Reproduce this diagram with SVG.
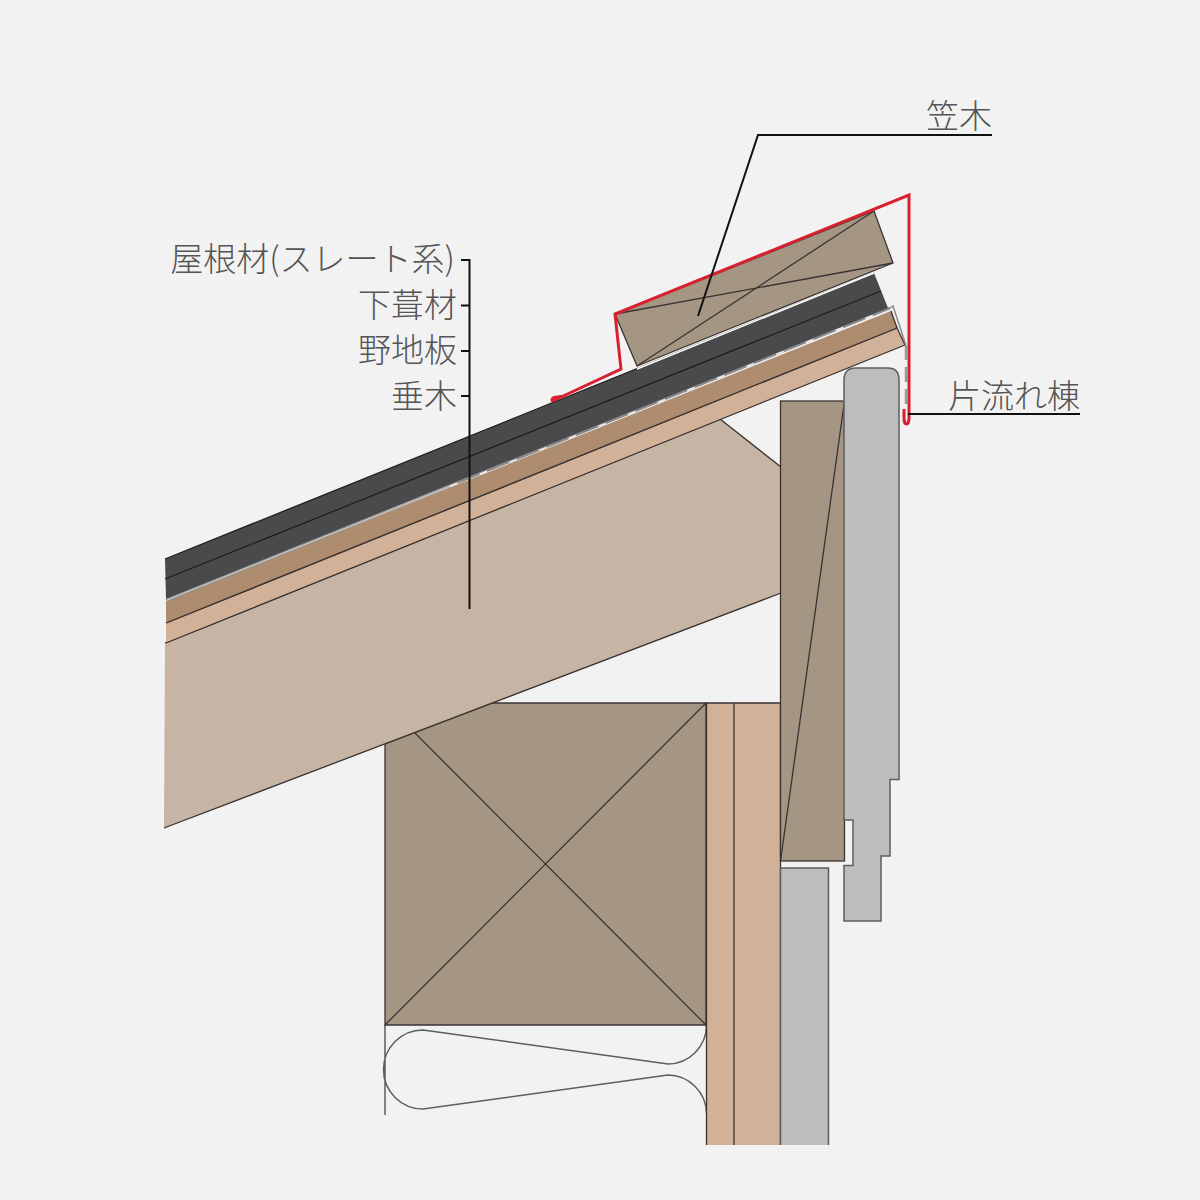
<svg xmlns="http://www.w3.org/2000/svg" width="1200" height="1200" viewBox="0 0 1200 1200">
<style>
.o{stroke:#3a3330;stroke-width:1.3;stroke-linejoin:miter}
.n{stroke:none}
.wood{fill:#a59684}
.peach{fill:#d2b199}
.gray{fill:#bdbdbd;stroke:#5e5e5e;stroke-width:1.5}
.g2{fill:#bdbdbd}
.thin{fill:none;stroke:#3a3330;stroke-width:1.3}
.ln{fill:none;stroke:#5e5e5e;stroke-width:1.500}
.lead{fill:none;stroke:#111;stroke-width:2}
.red{fill:none;stroke:#d8202f;stroke-width:3;stroke-linejoin:miter}
text{font-family:"Noto Sans CJK JP","Noto Sans",sans-serif;font-size:33px;font-weight:300;fill:#555;text-anchor:end}
</style>
<rect width="1200" height="1200" fill="#f2f2f2"/>
<g id="insulation">
<path class="ln" d="M385 1025V1115M706.500 1025A39 39 0 0 1 668 1064L423 1030A39.500 39.500 0 0 0 423 1109L668 1075A39 39 0 0 1 706.500 1113"/>
</g>
<g id="beam">
<path class="wood o" d="M385 744L492 703H706V1025H385Z"/>
<path class="thin" d="M385 1025L706 703M706 1025L415 733"/>
</g>
<g id="wall-studs">
<rect class="peach n" x="706.500" y="703" width="74" height="442"/>
<path class="thin" d="M706.500 1145V703H780.500V1145M734 703V1145"/>
</g>
<g id="rafter">
<path class="n" fill="#c6b4a5" d="M165 643L720 419L781 467V593L164 828Z"/>
<path class="thin" d="M165 643L720 419L781 467M781 593L164 828"/>
</g>
<g id="fascia">
<rect class="wood o" x="780.500" y="401" width="64" height="460"/>
<path class="thin" d="M844.500 401L780.500 861"/>
</g>
<g id="siding-lower">
<rect class="g2" x="780.500" y="868" width="48" height="277"/>
<path class="ln" d="M780.500 1145V868H828.500V1145"/>
</g>
<g id="siding-upper">
<path class="gray" d="M844 380Q844 368 856 368H888Q899 368 899 380V779.500H890V856H881V921H844V865.500H853V820H844Z"/>
</g>
<g id="sheathing">
<path class="peach n" d="M166 623L897 328L905 345L166 643Z"/>
<path class="thin" d="M166 623L897 328L905 345L166 643"/>
</g>
<g id="nojiita">
<path class="n" fill="#ae8c6f" d="M166 601L891 311L897 328L166 623Z"/>
<path class="thin" d="M891 311L897 328L166 623"/>
</g>
<g id="underlay">
<path fill="none" stroke="#8a8a8a" stroke-width="2.500" d="M166 600.500L890 308"/>
<path fill="none" stroke="#f4f4f4" stroke-width="1.500" stroke-dasharray="8 24" d="M450 422.800L890 245" transform="translate(0 63.500)"/>
<path fill="none" stroke="#e8e8e8" stroke-width="0.800" d="M166 600.500L450 486"/>
<path fill="none" stroke="#8a8a8a" stroke-width="1.500" d="M890 308L893 306L905.500 344"/>
<path fill="none" stroke="#999" stroke-width="2.500" stroke-dasharray="15 7" d="M906 345V408"/>
</g>
<g id="roofing">
<path class="n" fill="#4a4a4c" d="M165 559L874 273L888 308L166 599Z"/>
<path class="thin" stroke-width="1.500" style="stroke:#1e1e1e" d="M165 579L881 291M165 559L874 273"/>
</g>
<g id="kasagi">
<path class="wood o" d="M615 314L874 211L893 263L637 366Z"/>
<path class="thin" d="M615 314L893 263M637 366L874 211"/>
<path fill="none" stroke="#fff" stroke-width="1.500" d="M637 369L874 273"/>
</g>
<g id="flashing">
<path class="red" d="M565 396L554 397.500Q551 399 552.500 401L621 369L615 314L909 195V418C909 426 904 426 904 418V409"/>
</g>
<g id="connectors">
<path class="lead" d="M992 135H758L698 316"/>
<path class="lead" d="M908 414H1080"/>
<path class="lead" d="M461 260H469.500V609M461 305.500H469.500M461 351H469.500M461 396H469.500"/>
</g>
<g id="labels">
<text x="992" y="128">笠木</text>
<text x="1080" y="408">片流れ棟</text>
<text x="455" y="271">屋根材(スレート系)</text>
<text x="457" y="317">下葺材</text>
<text x="457" y="362">野地板</text>
<text x="457" y="408">垂木</text>
</g>
</svg>
